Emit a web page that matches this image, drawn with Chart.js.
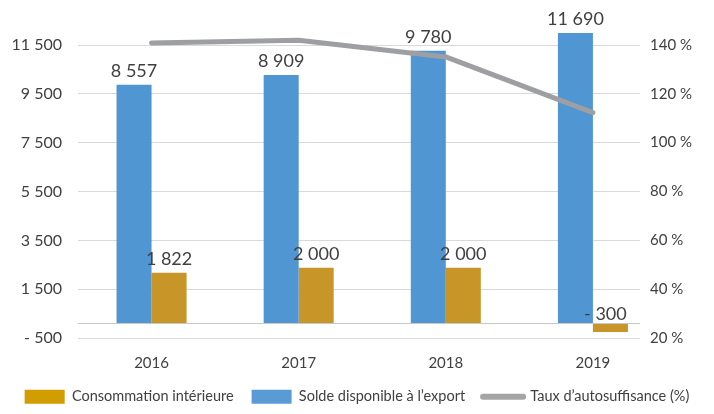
<!DOCTYPE html>
<html>
<head>
<meta charset="utf-8">
<script src="https://cdn.jsdelivr.net/npm/chart.js@4.4.1/dist/chart.umd.min.js"></script>
<style>
  html, body { margin: 0; padding: 0; background: #fff; }
  #wrap { width: 714px; height: 414px; }
</style>
</head>
<body>
<div id="wrap"><canvas id="chart"></canvas></div>
<script>
"use strict";

var categories = ["2016", "2017", "2018", "2019"];
var exportValues = [8557, 8909, 9780, 11690];
var consoValues = [1822, 2000, 2000, -300];
var tauxValues = [140.8, 141.9, 135.1, 112.3];

// left axis: gridline positions (data units) and the labels printed on them
var yTickValues = [-516, 0, 1234, 2984, 4734, 6484, 8234, 9984];
var yTickLabels = ["- 500", "", "1 500", "3 500", "5 500", "7 500", "9 500", "11 500"];
var y2TickValues = [20, 40, 60, 80, 100, 120, 140];

var legendOrder = ["Consommation intérieure", "Solde disponible à l\u2019export", "Taux d\u2019autosuffisance (%)"];
var legendColors = ["#D19D00", "#5B9BD5", "#A5A5A5"];

var TEXT = "#404040";

function fmt(v) {
  var s = String(Math.abs(v)).replace(/\B(?=(\d{3})+(?!\d))/g, " ");
  return (v < 0 ? "- " : "") + s;
}

function points(values) {
  return values.map(function(v, i) { return { x: i, y: v }; });
}

var barLabels = {
  id: "barLabels",
  afterDatasetsDraw: function(chart) {
    var ctx = chart.ctx;
    var area = chart.chartArea;
    ctx.save();
    ctx.font = "18px Lato";
    ctx.fillStyle = TEXT;
    ctx.textAlign = "center";
    ctx.textBaseline = "alphabetic";
    chart.data.datasets.forEach(function(ds, di) {
      if (ds.type === "line") return;
      var meta = chart.getDatasetMeta(di);
      meta.data.forEach(function(bar, i) {
        var v = ds.data[i].y;
        var top = Math.max(Math.min(bar.y, bar.base), area.top);
        var gap = v < 0 ? 4 : 8;
        var dx = v < 0 ? -5 : 0;
        ctx.fillText(fmt(v), bar.x + dx, top - gap);
      });
    });
    ctx.restore();
  }
};

var ctx = document.getElementById("chart");

new Chart(ctx, {
  data: {
    datasets: [{
      type: "line",
      label: legendOrder[2],
      data: points(tauxValues),
      yAxisID: "y2",
      borderColor: "#9D9FA2",
      backgroundColor: "#9D9FA2",
      borderWidth: 5,
      borderCapStyle: "round",
      borderJoinStyle: "round",
      pointRadius: 0,
      tension: 0,
      order: 0
    }, {
      type: "bar",
      label: legendOrder[1],
      data: points(exportValues),
      yAxisID: "y",
      backgroundColor: "#5096D2",
      categoryPercentage: 0.476,
      barPercentage: 1,
      order: 1
    }, {
      type: "bar",
      label: legendOrder[0],
      data: points(consoValues),
      yAxisID: "y",
      backgroundColor: "#C79528",
      categoryPercentage: 0.476,
      barPercentage: 1,
      order: 1
    }]
  },
  options: {
    responsive: true,
    maintainAspectRatio: false,
    animation: false,
    layout: {
      padding: { top: 33, left: 0, right: 0, bottom: 0 }
    },
    plugins: {
      tooltip: { enabled: false },
      legend: {
        position: "bottom",
        labels: {
          color: TEXT,
          font: { family: "Lato", size: 14.5 },
          usePointStyle: true,
          pointStyleWidth: 40,
          boxHeight: 14,
          padding: 18,
          generateLabels: function(chart) {
            var items = Chart.defaults.plugins.legend.labels.generateLabels(chart);
            items.forEach(function(it) {
              var k = legendOrder.indexOf(it.text);
              var ds = chart.data.datasets[it.datasetIndex];
              it.fillStyle = legendColors[k];
              it.strokeStyle = legendColors[k];
              if (ds.type === "line") {
                it.pointStyle = "line";
                it.lineWidth = 6;
                it.lineCap = "round";
              } else {
                it.pointStyle = "rect";
                it.lineWidth = 0;
              }
            });
            return items;
          },
          sort: function(a, b) {
            return legendOrder.indexOf(a.text) - legendOrder.indexOf(b.text);
          }
        }
      }
    },
    scales: {
      x: {
        type: "linear",
        offset: false,
        min: -0.5,
        max: 3.32,
        afterBuildTicks: function(scale) {
          scale.ticks = categories.map(function(c, i) { return { value: i }; });
        },
        afterFit: function(scale) { scale.height = 33.5; },
        grid: { display: false },
        border: { display: false },
        ticks: {
          color: TEXT,
          font: { family: "Lato", size: 15 },
          padding: 8,
          callback: function(v) { return categories[v]; }
        }
      },
      y: {
        position: "left",
        min: -516,
        max: 10416,
        afterBuildTicks: function(scale) {
          scale.ticks = yTickValues.map(function(v) { return { value: v }; });
        },
        afterFit: function(scale) { scale.width = 78; },
        grid: {
          drawTicks: false,
          color: function(c) { return c.tick && c.tick.value === 0 ? "#C8C8C8" : "#D9D9D9"; },
          lineWidth: 1
        },
        border: { display: false },
        ticks: {
          color: TEXT,
          font: { family: "Lato", size: 16 },
          padding: 16,
          callback: function(v, i) { return yTickLabels[i]; }
        }
      },
      y2: {
        position: "right",
        min: 20,
        max: 144.9,
        afterBuildTicks: function(scale) {
          scale.ticks = y2TickValues.map(function(v) { return { value: v }; });
        },
        afterFit: function(scale) { scale.width = 74; },
        grid: { display: false, drawTicks: false },
        border: { display: false },
        ticks: {
          color: TEXT,
          font: { family: "Lato", size: 15 },
          padding: 10,
          callback: function(v) { return v + " %"; }
        }
      }
    }
  },
  plugins: [barLabels]
});
</script>
</body>
</html>
